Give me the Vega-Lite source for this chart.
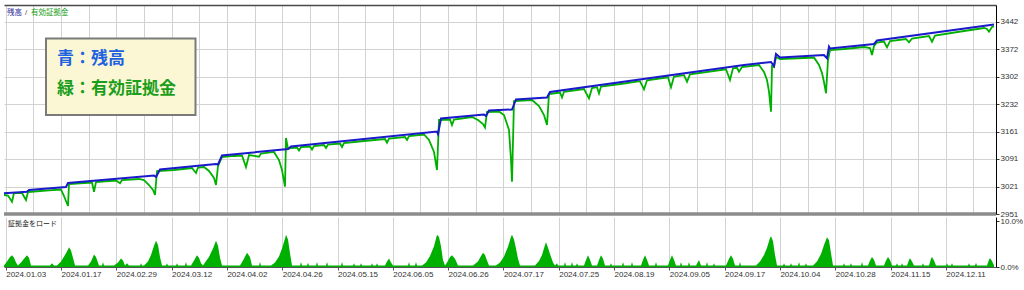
{
  "$schema": "https://vega.github.io/schema/vega-lite/v6.json",
  "padding": {"left": 0, "top": 5, "right": 0, "bottom": 0},
  "background": "white",
  "spacing": 3,
  "bounds": "flush",
  "config": {
    "view": {"stroke": null},
    "axis": {"labelFont": "Liberation Sans", "labelFontSize": 8, "labelColor": "#333333", "grid": true, "gridColor": "#d2d2d2", "gridWidth": 1, "gridOpacity": 1, "domainColor": "#000000", "tickColor": "#333333", "tickSize": 3, "labelOverlap": false},
    "axisY": {"labelOverlap": false, "labelBound": false}
  },
  "datasets": {
    "balance": [
      {"n": 0, "v": 3003.8}, {"n": 23, "v": 3007.9}, {"n": 25, "v": 3012.2}, {"n": 62, "v": 3019.9}, {"n": 64, "v": 3030.1},
      {"n": 150, "v": 3049.2}, {"n": 152, "v": 3045.4}, {"n": 156, "v": 3064.5}, {"n": 212, "v": 3078.5}, {"n": 214, "v": 3077.3},
      {"n": 218, "v": 3100.2}, {"n": 284, "v": 3116.8}, {"n": 287, "v": 3123.2}, {"n": 433, "v": 3161.4}, {"n": 434, "v": 3155.1},
      {"n": 437, "v": 3194.6}, {"n": 480, "v": 3204.8}, {"n": 482, "v": 3201.0}, {"n": 485, "v": 3215.0}, {"n": 508, "v": 3217.5},
      {"n": 512, "v": 3243.1}, {"n": 543, "v": 3248.1}, {"n": 546, "v": 3262.2}, {"n": 740, "v": 3331.1}, {"n": 767, "v": 3338.7},
      {"n": 770, "v": 3328.5}, {"n": 772, "v": 3359.1}, {"n": 776, "v": 3350.2}, {"n": 820, "v": 3356.5}, {"n": 823, "v": 3348.1},
      {"n": 825, "v": 3377.7}, {"n": 826, "v": 3373.1}, {"n": 870, "v": 3384.6}, {"n": 873, "v": 3393.5}, {"n": 990, "v": 3434.3}
    ],
    "equity": [
      {"n": 0, "v": 2999.5}, {"n": 4, "v": 2998.2}, {"n": 8, "v": 2982.4}, {"n": 10, "v": 3004.6}, {"n": 18, "v": 3004.6},
      {"n": 22, "v": 2986.7}, {"n": 24, "v": 3007.1}, {"n": 30, "v": 3008.4}, {"n": 45, "v": 3011.0}, {"n": 57, "v": 3013.5},
      {"n": 60, "v": 2996.9}, {"n": 64, "v": 2971.4}, {"n": 65, "v": 3027.5}, {"n": 80, "v": 3030.1}, {"n": 88, "v": 3031.4},
      {"n": 90, "v": 3007.9}, {"n": 92, "v": 3032.6}, {"n": 105, "v": 3035.2}, {"n": 112, "v": 3036.4}, {"n": 116, "v": 3029.3},
      {"n": 118, "v": 3037.7}, {"n": 135, "v": 3040.3}, {"n": 140, "v": 3037.7}, {"n": 145, "v": 3025.0}, {"n": 149, "v": 3012.2},
      {"n": 151, "v": 2999.5}, {"n": 153, "v": 3060.7}, {"n": 170, "v": 3063.2}, {"n": 188, "v": 3068.3}, {"n": 192, "v": 3055.6},
      {"n": 194, "v": 3069.6}, {"n": 200, "v": 3070.9}, {"n": 205, "v": 3060.7}, {"n": 210, "v": 3042.8}, {"n": 212, "v": 3025.0},
      {"n": 214, "v": 3073.4}, {"n": 218, "v": 3096.4}, {"n": 230, "v": 3099.0}, {"n": 238, "v": 3100.2}, {"n": 242, "v": 3070.9},
      {"n": 245, "v": 3101.5}, {"n": 255, "v": 3097.2}, {"n": 257, "v": 3105.3}, {"n": 270, "v": 3109.2}, {"n": 275, "v": 3088.7},
      {"n": 278, "v": 3063.2}, {"n": 281, "v": 3020.6}, {"n": 282, "v": 3144.9}, {"n": 284, "v": 3116.8}, {"n": 287, "v": 3119.4},
      {"n": 293, "v": 3120.6}, {"n": 295, "v": 3113.0}, {"n": 297, "v": 3121.9}, {"n": 306, "v": 3123.2}, {"n": 308, "v": 3115.5},
      {"n": 310, "v": 3124.5}, {"n": 320, "v": 3127.0}, {"n": 322, "v": 3119.4}, {"n": 324, "v": 3128.3}, {"n": 336, "v": 3130.8},
      {"n": 338, "v": 3121.9}, {"n": 340, "v": 3132.1}, {"n": 360, "v": 3137.2}, {"n": 381, "v": 3142.3}, {"n": 383, "v": 3132.9},
      {"n": 385, "v": 3143.6}, {"n": 401, "v": 3147.4}, {"n": 403, "v": 3139.8}, {"n": 405, "v": 3150.0}, {"n": 420, "v": 3153.8},
      {"n": 425, "v": 3139.8}, {"n": 430, "v": 3109.2}, {"n": 433, "v": 3063.2}, {"n": 435, "v": 3190.8}, {"n": 446, "v": 3192.0},
      {"n": 448, "v": 3178.0}, {"n": 450, "v": 3192.0}, {"n": 468, "v": 3198.4}, {"n": 474, "v": 3190.8}, {"n": 479, "v": 3180.6},
      {"n": 481, "v": 3171.6}, {"n": 483, "v": 3211.2}, {"n": 495, "v": 3212.5}, {"n": 500, "v": 3203.5}, {"n": 505, "v": 3165.3},
      {"n": 507, "v": 3088.7}, {"n": 508, "v": 3033.4}, {"n": 510, "v": 3239.2}, {"n": 528, "v": 3241.8}, {"n": 535, "v": 3226.5},
      {"n": 540, "v": 3203.5}, {"n": 543, "v": 3178.0}, {"n": 545, "v": 3257.1}, {"n": 556, "v": 3260.9}, {"n": 558, "v": 3248.2},
      {"n": 560, "v": 3262.7}, {"n": 580, "v": 3269.8}, {"n": 585, "v": 3246.1}, {"n": 588, "v": 3272.4}, {"n": 593, "v": 3274.4},
      {"n": 595, "v": 3258.4}, {"n": 597, "v": 3276.0}, {"n": 620, "v": 3283.9}, {"n": 636, "v": 3289.7}, {"n": 640, "v": 3269.1},
      {"n": 643, "v": 3292.0}, {"n": 664, "v": 3299.7}, {"n": 667, "v": 3274.2}, {"n": 670, "v": 3301.7}, {"n": 680, "v": 3305.0},
      {"n": 683, "v": 3288.5}, {"n": 686, "v": 3307.3}, {"n": 722, "v": 3320.1}, {"n": 726, "v": 3292.8}, {"n": 729, "v": 3322.6},
      {"n": 733, "v": 3323.9}, {"n": 735, "v": 3314.0}, {"n": 738, "v": 3326.0}, {"n": 755, "v": 3331.1}, {"n": 760, "v": 3313.2},
      {"n": 763, "v": 3292.8}, {"n": 765, "v": 3263.0}, {"n": 767, "v": 3211.9}, {"n": 768, "v": 3328.5}, {"n": 770, "v": 3326.0},
      {"n": 772, "v": 3351.5}, {"n": 776, "v": 3346.4}, {"n": 800, "v": 3348.9}, {"n": 810, "v": 3350.2}, {"n": 815, "v": 3331.1},
      {"n": 818, "v": 3310.6}, {"n": 820, "v": 3287.7}, {"n": 822, "v": 3258.9}, {"n": 824, "v": 3343.8}, {"n": 826, "v": 3369.3},
      {"n": 840, "v": 3371.9}, {"n": 860, "v": 3377.0}, {"n": 866, "v": 3374.4}, {"n": 868, "v": 3356.6}, {"n": 870, "v": 3379.5},
      {"n": 873, "v": 3388.4}, {"n": 880, "v": 3391.0}, {"n": 883, "v": 3376.2}, {"n": 886, "v": 3392.3}, {"n": 902, "v": 3397.4},
      {"n": 905, "v": 3389.0}, {"n": 908, "v": 3398.6}, {"n": 925, "v": 3405.0}, {"n": 928, "v": 3390.5}, {"n": 931, "v": 3406.3},
      {"n": 960, "v": 3417.8}, {"n": 980, "v": 3425.4}, {"n": 983, "v": 3422.9}, {"n": 985, "v": 3416.0}, {"n": 988, "v": 3428.0},
      {"n": 990, "v": 3429.3}
    ],
    "load": [
      {"n": 0, "load": 0.3}, {"n": 3, "load": 1.2}, {"n": 6, "load": 2.2}, {"n": 8, "load": 2.55}, {"n": 10, "load": 2.0}, {"n": 12, "load": 1.0}, {"n": 14, "load": 0.3},
      {"n": 17, "load": 1.0}, {"n": 20, "load": 1.8}, {"n": 23, "load": 2.55}, {"n": 25, "load": 2.0}, {"n": 27, "load": 0.3},
      {"n": 46, "load": 0.3}, {"n": 48, "load": 0.8}, {"n": 50, "load": 0.3},
      {"n": 53, "load": 0.3}, {"n": 57, "load": 1.2}, {"n": 61, "load": 2.6}, {"n": 64, "load": 3.8}, {"n": 65, "load": 4.3}, {"n": 67, "load": 3.6}, {"n": 69, "load": 2.0}, {"n": 71, "load": 0.3},
      {"n": 84, "load": 0.3}, {"n": 87, "load": 1.2}, {"n": 90, "load": 2.7}, {"n": 92, "load": 2.2}, {"n": 95, "load": 0.3},
      {"n": 98, "load": 0.3}, {"n": 99, "load": 1.1}, {"n": 100, "load": 0.3},
      {"n": 110, "load": 0.3}, {"n": 114, "load": 1.0}, {"n": 117, "load": 1.85}, {"n": 119, "load": 1.4}, {"n": 121, "load": 0.3}, {"n": 123, "load": 0.8}, {"n": 125, "load": 0.3},
      {"n": 136, "load": 0.3}, {"n": 137, "load": 0.8}, {"n": 138, "load": 0.3},
      {"n": 140, "load": 0.3}, {"n": 144, "load": 1.2}, {"n": 147, "load": 2.6}, {"n": 150, "load": 4.6}, {"n": 152, "load": 5.7}, {"n": 154, "load": 4.8}, {"n": 156, "load": 2.2}, {"n": 158, "load": 0.3},
      {"n": 162, "load": 0.3}, {"n": 163, "load": 0.8}, {"n": 164, "load": 0.3}, {"n": 172, "load": 0.3}, {"n": 173, "load": 0.8}, {"n": 174, "load": 0.3},
      {"n": 181, "load": 0.3}, {"n": 182, "load": 1.1}, {"n": 183, "load": 0.3},
      {"n": 187, "load": 0.3}, {"n": 190, "load": 1.4}, {"n": 193, "load": 2.55}, {"n": 195, "load": 2.0}, {"n": 197, "load": 0.8}, {"n": 199, "load": 0.3},
      {"n": 201, "load": 1.0}, {"n": 205, "load": 2.2}, {"n": 209, "load": 4.0}, {"n": 212, "load": 5.7}, {"n": 214, "load": 4.6}, {"n": 216, "load": 2.0}, {"n": 218, "load": 0.3},
      {"n": 236, "load": 0.3}, {"n": 239, "load": 1.4}, {"n": 243, "load": 3.1}, {"n": 246, "load": 2.2}, {"n": 248, "load": 0.3},
      {"n": 255, "load": 0.3}, {"n": 256, "load": 1.1}, {"n": 257, "load": 0.3},
      {"n": 267, "load": 0.3}, {"n": 271, "load": 1.0}, {"n": 275, "load": 2.3}, {"n": 278, "load": 4.0}, {"n": 281, "load": 6.2}, {"n": 282, "load": 7.0}, {"n": 284, "load": 6.0}, {"n": 286, "load": 3.0}, {"n": 288, "load": 0.3},
      {"n": 296, "load": 0.3}, {"n": 297, "load": 1.1}, {"n": 298, "load": 0.3}, {"n": 303, "load": 0.3}, {"n": 304, "load": 0.9}, {"n": 305, "load": 0.3},
      {"n": 312, "load": 0.3}, {"n": 313, "load": 1.1}, {"n": 314, "load": 0.3}, {"n": 322, "load": 0.3}, {"n": 323, "load": 1.1}, {"n": 324, "load": 0.3},
      {"n": 337, "load": 0.3}, {"n": 338, "load": 1.1}, {"n": 339, "load": 0.3}, {"n": 349, "load": 0.3}, {"n": 350, "load": 0.8}, {"n": 351, "load": 0.3},
      {"n": 356, "load": 0.3}, {"n": 357, "load": 0.8}, {"n": 358, "load": 0.3}, {"n": 367, "load": 0.3}, {"n": 368, "load": 0.8}, {"n": 369, "load": 0.3},
      {"n": 372, "load": 0.3}, {"n": 373, "load": 0.8}, {"n": 374, "load": 0.3},
      {"n": 381, "load": 0.3}, {"n": 383, "load": 1.2}, {"n": 385, "load": 1.85}, {"n": 387, "load": 1.0}, {"n": 389, "load": 0.3},
      {"n": 404, "load": 0.3}, {"n": 405, "load": 1.1}, {"n": 406, "load": 0.3}, {"n": 411, "load": 0.3}, {"n": 412, "load": 1.1}, {"n": 413, "load": 0.3},
      {"n": 418, "load": 0.3}, {"n": 422, "load": 1.0}, {"n": 426, "load": 2.4}, {"n": 430, "load": 4.5}, {"n": 433, "load": 7.0}, {"n": 435, "load": 6.5}, {"n": 437, "load": 4.5}, {"n": 439, "load": 1.5}, {"n": 441, "load": 0.3},
      {"n": 443, "load": 1.0}, {"n": 446, "load": 2.2}, {"n": 448, "load": 2.55}, {"n": 451, "load": 1.8}, {"n": 454, "load": 0.3},
      {"n": 469, "load": 0.3}, {"n": 474, "load": 1.2}, {"n": 477, "load": 2.4}, {"n": 479, "load": 3.1}, {"n": 481, "load": 2.6}, {"n": 483, "load": 1.4}, {"n": 485, "load": 0.3},
      {"n": 492, "load": 0.3}, {"n": 496, "load": 1.0}, {"n": 500, "load": 2.3}, {"n": 504, "load": 4.4}, {"n": 507, "load": 6.6}, {"n": 508, "load": 7.0}, {"n": 510, "load": 6.0}, {"n": 512, "load": 4.0}, {"n": 514, "load": 1.8}, {"n": 516, "load": 0.3},
      {"n": 531, "load": 0.3}, {"n": 535, "load": 1.3}, {"n": 538, "load": 2.6}, {"n": 541, "load": 4.8}, {"n": 542, "load": 5.4}, {"n": 544, "load": 4.2}, {"n": 546, "load": 2.8}, {"n": 549, "load": 1.0}, {"n": 551, "load": 0.3},
      {"n": 553, "load": 0.8}, {"n": 554, "load": 0.3}, {"n": 560, "load": 0.3}, {"n": 561, "load": 1.1}, {"n": 562, "load": 0.3},
      {"n": 567, "load": 0.3}, {"n": 568, "load": 1.1}, {"n": 569, "load": 0.3}, {"n": 572, "load": 0.3}, {"n": 573, "load": 0.8}, {"n": 574, "load": 0.3},
      {"n": 580, "load": 0.3}, {"n": 582, "load": 1.5}, {"n": 584, "load": 2.55}, {"n": 586, "load": 1.6}, {"n": 588, "load": 0.3},
      {"n": 593, "load": 0.3}, {"n": 595, "load": 1.5}, {"n": 597, "load": 2.55}, {"n": 599, "load": 1.8}, {"n": 601, "load": 0.3},
      {"n": 606, "load": 0.3}, {"n": 607, "load": 0.8}, {"n": 608, "load": 0.3}, {"n": 618, "load": 0.3}, {"n": 619, "load": 1.1}, {"n": 620, "load": 0.3},
      {"n": 627, "load": 0.3}, {"n": 628, "load": 1.1}, {"n": 629, "load": 0.3},
      {"n": 637, "load": 0.3}, {"n": 639, "load": 1.6}, {"n": 641, "load": 2.55}, {"n": 643, "load": 1.6}, {"n": 645, "load": 0.3},
      {"n": 651, "load": 0.3}, {"n": 652, "load": 1.1}, {"n": 653, "load": 0.3},
      {"n": 664, "load": 0.3}, {"n": 666, "load": 1.6}, {"n": 668, "load": 2.55}, {"n": 670, "load": 1.6}, {"n": 672, "load": 0.3},
      {"n": 676, "load": 0.3}, {"n": 677, "load": 1.1}, {"n": 678, "load": 0.3}, {"n": 684, "load": 0.3}, {"n": 685, "load": 1.1}, {"n": 686, "load": 0.3},
      {"n": 692, "load": 0.3}, {"n": 695, "load": 1.5}, {"n": 697, "load": 0.3}, {"n": 702, "load": 0.3}, {"n": 703, "load": 1.1}, {"n": 704, "load": 0.3},
      {"n": 709, "load": 0.3}, {"n": 710, "load": 0.8}, {"n": 711, "load": 0.3},
      {"n": 722, "load": 0.3}, {"n": 725, "load": 1.8}, {"n": 727, "load": 2.55}, {"n": 729, "load": 1.8}, {"n": 731, "load": 0.3},
      {"n": 735, "load": 0.3}, {"n": 736, "load": 1.1}, {"n": 737, "load": 0.3},
      {"n": 752, "load": 0.3}, {"n": 756, "load": 1.2}, {"n": 760, "load": 2.6}, {"n": 763, "load": 4.2}, {"n": 766, "load": 6.3}, {"n": 767, "load": 6.7}, {"n": 769, "load": 5.6}, {"n": 771, "load": 2.6}, {"n": 773, "load": 0.3},
      {"n": 779, "load": 0.3}, {"n": 780, "load": 0.8}, {"n": 781, "load": 0.3}, {"n": 786, "load": 0.3}, {"n": 787, "load": 0.8}, {"n": 788, "load": 0.3},
      {"n": 794, "load": 0.3}, {"n": 795, "load": 1.1}, {"n": 796, "load": 0.3}, {"n": 801, "load": 0.3}, {"n": 802, "load": 0.8}, {"n": 803, "load": 0.3},
      {"n": 809, "load": 0.3}, {"n": 813, "load": 1.2}, {"n": 817, "load": 2.8}, {"n": 820, "load": 4.8}, {"n": 823, "load": 6.45}, {"n": 825, "load": 5.8}, {"n": 827, "load": 3.0}, {"n": 829, "load": 0.3},
      {"n": 839, "load": 0.3}, {"n": 840, "load": 0.8}, {"n": 841, "load": 0.3}, {"n": 846, "load": 0.3}, {"n": 847, "load": 0.8}, {"n": 848, "load": 0.3},
      {"n": 857, "load": 0.3}, {"n": 858, "load": 1.1}, {"n": 859, "load": 0.3},
      {"n": 864, "load": 0.3}, {"n": 866, "load": 1.4}, {"n": 868, "load": 2.2}, {"n": 870, "load": 1.6}, {"n": 872, "load": 0.3},
      {"n": 880, "load": 0.3}, {"n": 882, "load": 1.4}, {"n": 884, "load": 2.2}, {"n": 886, "load": 1.5}, {"n": 888, "load": 0.3},
      {"n": 892, "load": 0.3}, {"n": 893, "load": 0.8}, {"n": 894, "load": 0.3}, {"n": 897, "load": 0.3}, {"n": 898, "load": 0.8}, {"n": 899, "load": 0.3},
      {"n": 903, "load": 0.3}, {"n": 905, "load": 1.5}, {"n": 906, "load": 1.9}, {"n": 908, "load": 1.2}, {"n": 910, "load": 0.3},
      {"n": 918, "load": 0.3}, {"n": 919, "load": 0.8}, {"n": 920, "load": 0.3},
      {"n": 925, "load": 0.3}, {"n": 927, "load": 1.8}, {"n": 928, "load": 2.2}, {"n": 930, "load": 1.4}, {"n": 932, "load": 0.3},
      {"n": 942, "load": 0.3}, {"n": 943, "load": 0.8}, {"n": 944, "load": 0.3}, {"n": 947, "load": 0.3}, {"n": 948, "load": 0.8}, {"n": 949, "load": 0.3},
      {"n": 964, "load": 0.3}, {"n": 965, "load": 0.8}, {"n": 966, "load": 0.3}, {"n": 971, "load": 0.3}, {"n": 972, "load": 0.9}, {"n": 973, "load": 0.3},
      {"n": 983, "load": 0.3}, {"n": 985, "load": 1.6}, {"n": 986, "load": 1.9}, {"n": 988, "load": 1.3}, {"n": 990, "load": 0.3}
    ]
  },
  "vconcat": [
    {
      "width": 992,
      "height": 209,
      "encoding": {
        "x": {"type": "quantitative", "scale": {"domain": [0, 992], "nice": false, "zero": false},
          "axis": {"orient": "top", "title": null, "values": [1.7, 29.35, 57.0, 84.65, 112.3, 139.95, 167.6, 195.25, 222.9, 250.55, 278.2, 305.85, 333.5, 361.15, 388.8, 416.45, 444.1, 471.75, 499.4, 527.05, 554.7, 582.35, 610.0, 637.65, 665.3, 692.95, 720.6, 748.25, 775.9, 803.55, 831.2, 858.85, 886.5, 914.15, 941.8, 969.45],
            "labels": false, "ticks": false, "grid": true, "domain": true, "domainColor": "#4a4a4a", "domainWidth": 1.5}},
        "y": {"type": "quantitative", "scale": {"domain": [2951, 3484.1], "nice": false, "zero": false},
          "axis": {"orient": "right", "title": null, "values": [2951, 3021.14, 3091.29, 3161.43, 3231.57, 3301.71, 3371.86, 3442], "format": ".0f", "grid": true, "labelPadding": 1, "labelOverlap": false, "labelBound": false, "labelFlush": false}}
      },
      "layer": [
        {
          "data": {"name": "equity"},
          "mark": {"type": "line", "color": "#00b000", "strokeWidth": 1.8},
          "encoding": {"x": {"field": "n"}, "y": {"field": "v"}}
        },
        {
          "data": {"name": "balance"},
          "mark": {"type": "line", "color": "#1a1acb", "strokeWidth": 2},
          "encoding": {"x": {"field": "n"}, "y": {"field": "v"}}
        },
        {
          "data": {"values": [{}]},
          "mark": {"type": "rule", "color": "#8c8c8c", "strokeWidth": 3.5},
          "encoding": {"x": null, "y": {"datum": 2951}}
        },
        {
          "data": {"values": [{}]},
          "mark": {"type": "rect", "fill": "#fbf7d5", "stroke": "#7a7a7a", "strokeWidth": 2},
          "encoding": {"x": {"datum": 42}, "x2": {"datum": 191.5}, "y": {"datum": 3398.6}, "y2": {"datum": 3203.5}}
        },
        {
          "data": {"values": [{}]},
          "mark": {"type": "text", "text": "青：残高", "align": "left", "baseline": "middle", "font": "Noto Sans CJK JP", "fontSize": 17, "fontWeight": "bold", "color": "#1f62e0"},
          "encoding": {"x": {"datum": 53}, "y": {"datum": 3345.1}}
        },
        {
          "data": {"values": [{}]},
          "mark": {"type": "text", "text": "緑：有効証拠金", "align": "left", "baseline": "middle", "font": "Noto Sans CJK JP", "fontSize": 17, "fontWeight": "bold", "color": "#1b9e1b"},
          "encoding": {"x": {"datum": 53}, "y": {"datum": 3268.6}}
        },
        {
          "data": {"values": [{}]},
          "mark": {"type": "text", "text": "残高", "align": "left", "baseline": "middle", "font": "Noto Sans CJK JP", "fontSize": 7.5, "color": "#2a2a9a"},
          "encoding": {"x": {"datum": 3}, "y": {"datum": 3462.9}}
        },
        {
          "data": {"values": [{}]},
          "mark": {"type": "text", "text": "/", "align": "left", "baseline": "middle", "font": "Liberation Sans", "fontSize": 8, "color": "#555555"},
          "encoding": {"x": {"datum": 21}, "y": {"datum": 3462.9}}
        },
        {
          "data": {"values": [{}]},
          "mark": {"type": "text", "text": "有効証拠金", "align": "left", "baseline": "middle", "font": "Noto Sans CJK JP", "fontSize": 7.5, "color": "#13a013"},
          "encoding": {"x": {"datum": 27}, "y": {"datum": 3462.9}}
        }
      ]
    },
    {
      "width": 992,
      "height": 50,
      "layer": [
        {
          "data": {"name": "load"},
          "mark": {"type": "area", "color": "#00b000"},
          "encoding": {
            "x": {"field": "n", "type": "quantitative", "scale": {"domain": [0, 992], "nice": false, "zero": false},
              "axis": {"orient": "bottom", "title": null, "values": [1.7, 29.35, 57.0, 84.65, 112.3, 139.95, 167.6, 195.25, 222.9, 250.55, 278.2, 305.85, 333.5, 361.15, 388.8, 416.45, 444.1, 471.75, 499.4, 527.05, 554.7, 582.35, 610.0, 637.65, 665.3, 692.95, 720.6, 748.25, 775.9, 803.55, 831.2, 858.85, 886.5, 914.15, 941.8, 969.45],
                "labelExpr": "round((datum.value-1.7)/27.65) % 2 == 0 ? ['2024.01.03','2024.01.17','2024.02.29','2024.03.12','2024.04.02','2024.04.26','2024.05.15','2024.06.05','2024.06.26','2024.07.17','2024.07.25','2024.08.19','2024.09.05','2024.09.17','2024.10.04','2024.10.28','2024.11.15','2024.12.11'][round((datum.value-1.7)/55.3)] : ''",
                "labelAlign": "left", "labelBaseline": "top", "labelPadding": 0, "labelOverlap": false, "labelFlush": false, "labelBound": false,
                "grid": true, "domainColor": "#555555", "tickColor": "#555555",
                "tickOpacity": {"condition": {"test": "round((datum.value-1.7)/27.65) % 2 == 1", "value": 0}, "value": 1}}},
            "y": {"field": "load", "type": "quantitative", "scale": {"domain": [0, 10.87], "nice": false, "zero": true},
              "axis": {"orient": "right", "title": null, "values": [0, 10], "labelExpr": "format(datum.value, '.1f') + '%'", "grid": false, "labelPadding": 1}}
          }
        },
        {
          "data": {"values": [{}]},
          "mark": {"type": "text", "text": "証拠金をロード", "align": "left", "baseline": "middle", "font": "Noto Sans CJK JP", "fontSize": 7, "color": "#222222"},
          "encoding": {"x": {"datum": 4}, "y": {"datum": 9.24}}
        }
      ]
    }
  ]
}
